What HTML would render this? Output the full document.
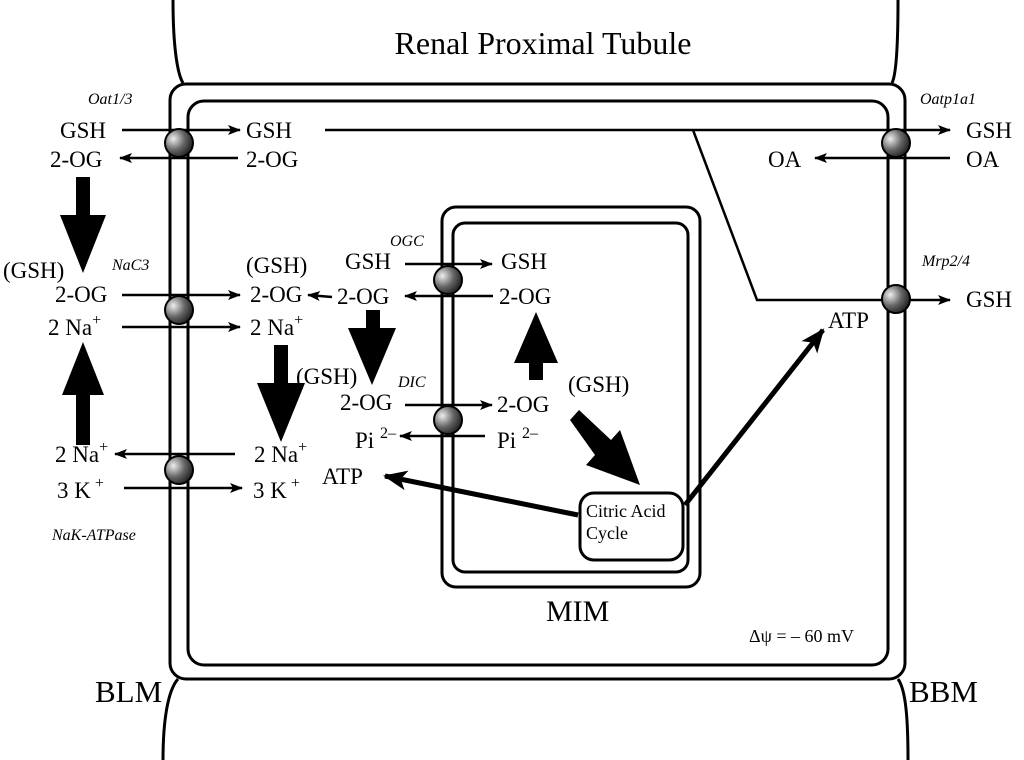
<!DOCTYPE html>
<html><head><meta charset="utf-8"><style>
html,body{margin:0;padding:0;background:#fff;}
svg{display:block;}
text{font-family:"Liberation Serif",serif;fill:#000;}
.t{font-size:23px;}
.i{font-size:16px;font-style:italic;}
</style></head><body>
<svg width="1024" height="760" viewBox="0 0 1024 760" xmlns="http://www.w3.org/2000/svg">
<defs>
<radialGradient id="g" cx="0.3" cy="0.35" r="0.8">
<stop offset="0" stop-color="#eee"/><stop offset="0.5" stop-color="#666"/><stop offset="1" stop-color="#111"/></radialGradient>
<marker id="a" markerWidth="13" markerHeight="10" refX="12" refY="5" orient="auto" markerUnits="userSpaceOnUse">
<path d="M0,0 L13,5 L0,10 L3,5 Z" fill="#000"/></marker>
<marker id="b" markerWidth="24" markerHeight="20" refX="22" refY="10" orient="auto" markerUnits="userSpaceOnUse">
<path d="M0,0 L24,10 L0,20 L6,10 Z" fill="#000"/></marker>
</defs>
<g fill="none" stroke="#000" stroke-width="3">
<path d="M173,0 C173,50 178,75 183,83"/>
<path d="M163,760 C163,720 168,690 178,679"/>
<path d="M898,0 C898,50 896,75 892,83"/>
<path d="M908,760 C908,720 906,690 898,679"/>
<rect x="170" y="84" width="735" height="595" rx="16"/>
<rect x="188" y="101" width="700" height="564" rx="16"/>
<rect x="442" y="207" width="258" height="380" rx="14"/>
<rect x="453" y="223" width="235" height="349" rx="12"/>
<rect x="580" y="493" width="103" height="67" rx="14"/>
</g>
<g stroke="#000" stroke-width="2.5" fill="none" marker-end="url(#a)">
<line x1="122" y1="130" x2="240" y2="130"/>
<line x1="238" y1="158" x2="120" y2="158"/>
<line x1="325" y1="130" x2="950" y2="130"/>
<polyline points="693,130 757,300 950,300"/>
<line x1="950" y1="158" x2="815" y2="158"/>
<line x1="122" y1="295" x2="240" y2="295"/>
<line x1="122" y1="327" x2="240" y2="327"/>
<line x1="332" y1="297" x2="308" y2="295"/>
<line x1="405" y1="264" x2="492" y2="264"/>
<line x1="493" y1="296" x2="405" y2="296"/>
<line x1="405" y1="405" x2="492" y2="405"/>
<line x1="485" y1="436" x2="400" y2="436"/>
<line x1="235" y1="454" x2="115" y2="454"/>
<line x1="124" y1="488" x2="242" y2="488"/>
</g>
<g stroke="#000" stroke-width="5" fill="none" marker-end="url(#b)">
<line x1="578" y1="515" x2="385" y2="476"/>
<line x1="685" y1="505" x2="823" y2="330"/>
</g>
<g fill="#000">
<path d="M76,177 H90 V215 H106 L83,273 L60,215 H76 Z"/>
<path d="M76,445 H90 V395 H104 L83,342 L62,395 H76 Z"/>
<path d="M274,345 H288 V383 H305 L281,442 L257,383 H274 Z"/>
<path d="M366,310 H380 V328 H396 L372,385 L348,328 H366 Z"/>
<path d="M529,380 H543 V363 H558 L536,312 L514,363 H529 Z"/>
<path d="M570,420 L579,410 L611,440 L620,430 L640,485 L586,465 L595,455 Z"/>
</g>
<g fill="url(#g)" stroke="#000" stroke-width="2">
<circle cx="179" cy="143" r="14"/>
<circle cx="179" cy="310" r="14"/>
<circle cx="179" cy="470" r="14"/>
<circle cx="896" cy="143" r="14"/>
<circle cx="896" cy="299" r="14"/>
<circle cx="448" cy="280" r="14"/>
<circle cx="448" cy="420" r="14"/>
</g>
<text x="543" y="54" font-size="32" text-anchor="middle">Renal Proximal Tubule</text>
<text class="i" x="88" y="104">Oat1/3</text>
<text class="i" x="920" y="104">Oatp1a1</text>
<text class="i" x="922" y="266">Mrp2/4</text>
<text class="i" x="112" y="270">NaC3</text>
<text class="i" x="390" y="246">OGC</text>
<text class="i" x="398" y="387">DIC</text>
<text class="i" x="52" y="540">NaK-ATPase</text>
<g class="t">
<text x="60" y="138">GSH</text>
<text x="50" y="167">2-OG</text>
<text x="246" y="138">GSH</text>
<text x="246" y="167">2-OG</text>
<text x="966" y="138">GSH</text>
<text x="966" y="167">OA</text>
<text x="768" y="167">OA</text>
<text x="966" y="307">GSH</text>
<text x="828" y="328">ATP</text>
<text x="3" y="278">(GSH)</text>
<text x="55" y="302">2-OG</text>
<text x="48" y="335">2 Na<tspan font-size="16" dy="-10">+</tspan></text>
<text x="246" y="273">(GSH)</text>
<text x="250" y="302">2-OG</text>
<text x="250" y="335">2 Na<tspan font-size="16" dy="-10">+</tspan></text>
<text x="345" y="269">GSH</text>
<text x="337" y="304">2-OG</text>
<text x="501" y="269">GSH</text>
<text x="499" y="304">2-OG</text>
<text x="296" y="384">(GSH)</text>
<text x="340" y="410">2-OG</text>
<text x="497" y="412">2-OG</text>
<text x="568" y="392">(GSH)</text>
<text x="355" y="448">Pi <tspan font-size="16" dy="-10">2–</tspan></text>
<text x="497" y="448">Pi <tspan font-size="16" dy="-10">2–</tspan></text>
<text x="55" y="462">2 Na<tspan font-size="16" dy="-10">+</tspan></text>
<text x="57" y="498">3 K<tspan font-size="16" dy="-10"> +</tspan></text>
<text x="254" y="462">2 Na<tspan font-size="16" dy="-10">+</tspan></text>
<text x="253" y="498">3 K<tspan font-size="16" dy="-10"> +</tspan></text>
<text x="322" y="484">ATP</text>
</g>
<text x="586" y="517" font-size="18">Citric Acid</text>
<text x="586" y="539" font-size="18">Cycle</text>
<text x="546" y="621" font-size="30">MIM</text>
<text x="749" y="642" font-size="18">Δψ = – 60 mV</text>
<text x="95" y="702" font-size="31">BLM</text>
<text x="909" y="702" font-size="31">BBM</text>
</svg>
</body></html>
